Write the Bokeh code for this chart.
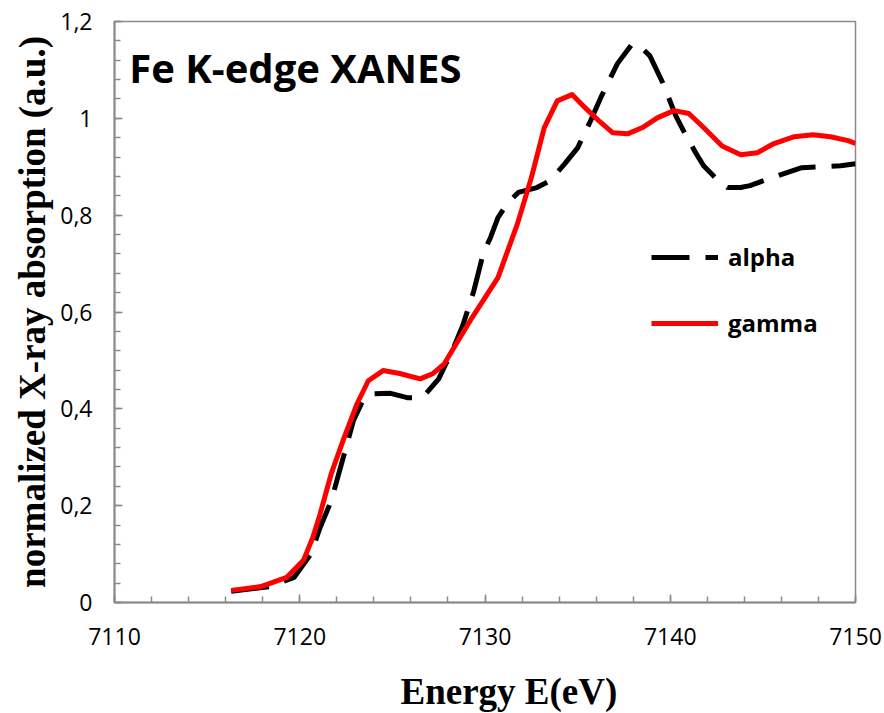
from bokeh.plotting import figure
from bokeh.models import (Range1d, FixedTicker, CustomJSTickFormatter, Label,
                          Legend, LegendItem, Title)
from bokeh.embed import file_html
from bokeh.resources import INLINE
import numpy as np

# ---------------- data ----------------
gamma_E = [7116.3, 7117.9, 7119.3, 7120.2, 7120.7, 7121.1, 7121.7, 7122.4, 7123.1,
           7123.7, 7124.5, 7125.4, 7126.5, 7127.2, 7127.8, 7129.2, 7130.7, 7131.75,
           7132.5, 7133.2, 7133.9, 7134.7, 7135.4, 7136.2, 7136.9, 7137.7, 7138.5,
           7139.3, 7140.2, 7141.0, 7141.8, 7142.8, 7143.8, 7144.7, 7145.6, 7146.7,
           7147.7, 7148.65, 7149.6, 7150.0]
gamma_y = [0.025, 0.033, 0.052, 0.087, 0.134, 0.183, 0.266, 0.341, 0.411,
           0.458, 0.479, 0.473, 0.462, 0.473, 0.493, 0.582, 0.671, 0.782,
           0.877, 0.981, 1.036, 1.049, 1.022, 0.993, 0.970, 0.968, 0.981,
           1.001, 1.016, 1.010, 0.981, 0.943, 0.925, 0.929, 0.948, 0.962,
           0.966, 0.962, 0.954, 0.948]

alpha_E = [7116.3, 7118.4, 7119.7, 7120.6, 7121.1, 7121.7, 7122.2, 7122.6, 7122.9,
           7123.4, 7123.9, 7124.9, 7125.8, 7126.4, 7126.8, 7127.5, 7128.3, 7128.8,
           7129.4, 7129.9, 7130.3, 7130.7, 7131.2, 7131.8, 7132.8, 7133.5, 7134.3,
           7135.0, 7135.7, 7136.3, 7137.15, 7137.95, 7138.5, 7138.9, 7139.1, 7139.6,
           7140.3, 7140.8, 7141.4, 7141.8, 7142.55, 7143.1, 7143.8, 7144.3, 7145.3,
           7146.3, 7147.1, 7148.3, 7149.2, 7150.0]
alpha_y = [0.023, 0.033, 0.052, 0.100, 0.155, 0.210, 0.279, 0.334, 0.376,
           0.417, 0.431, 0.432, 0.423, 0.423, 0.431, 0.462, 0.526, 0.572,
           0.644, 0.720, 0.754, 0.795, 0.824, 0.847, 0.857, 0.871, 0.906,
           0.939, 0.995, 1.047, 1.113, 1.154, 1.144, 1.129, 1.113, 1.073,
           1.005, 0.968, 0.927, 0.902, 0.873, 0.857, 0.857, 0.861, 0.875,
           0.888, 0.898, 0.900, 0.902, 0.906]

x_ticks = [7110, 7120, 7130, 7140, 7150]
y_ticks = [0, 0.2, 0.4, 0.6, 0.8, 1.0, 1.2]
y_tick_labels = ["0", "0,2", "0,4", "0,6", "0,8", "1", "1,2"]

series_names = ["alpha", "gamma"]
title_text = "Fe K-edge XANES"
x_label = "Energy E(eV)"
y_label = "normalized X-ray absorption (a.u.)"

# ---------------- figure ----------------
AXIS_GRAY = "#8a8a8a"

p = figure(frame_width=741, frame_height=581,
           min_border_left=114, min_border_right=29,
           min_border_top=21, min_border_bottom=111,
           x_range=Range1d(7110, 7150), y_range=Range1d(0, 1.2),
           output_backend="svg", toolbar_location=None,
           background_fill_color="white", border_fill_color="white")

p.grid.visible = False
p.outline_line_color = AXIS_GRAY
p.outline_line_width = 1.5

p.xaxis.ticker = FixedTicker(ticks=x_ticks, minor_ticks=list(np.arange(7110, 7150.01, 2)))
p.yaxis.ticker = FixedTicker(ticks=y_ticks, minor_ticks=list(np.round(np.arange(0, 1.2001, 0.04), 4)))
p.yaxis.formatter = CustomJSTickFormatter(
    args=dict(tvals=y_ticks, tlabels=y_tick_labels),
    code="""
    let best = 0, bd = 1e9;
    for (let i = 0; i < tvals.length; i++) {
        const d = Math.abs(tvals[i] - tick);
        if (d < bd) { bd = d; best = i; }
    }
    return tlabels[best];
    """)

for ax in (p.xaxis, p.yaxis):
    ax.axis_line_color = AXIS_GRAY
    ax.axis_line_width = 2
    ax.major_tick_line_color = AXIS_GRAY
    ax.minor_tick_line_color = AXIS_GRAY
    ax.major_tick_line_width = 1.5
    ax.minor_tick_line_width = 1.5
    ax.major_tick_in = 8
    ax.major_tick_out = 0
    ax.minor_tick_in = 6
    ax.minor_tick_out = 0
    ax.major_label_text_font = "Open Sans"
    ax.major_label_text_font_size = "23px"
    ax.major_label_text_color = "black"

p.xaxis.major_label_standoff = 25
p.yaxis.major_label_standoff = 22

p.yaxis.axis_label = y_label
p.yaxis.axis_label_text_font = "Liberation Serif"
p.yaxis.axis_label_text_font_style = "bold"
p.yaxis.axis_label_text_font_size = "37px"
p.yaxis.axis_label_text_color = "black"
p.yaxis.axis_label_standoff = 4

# curves
r_alpha = p.line(alpha_E, alpha_y, line_color="black", line_width=5,
                 line_dash="38 16", line_join="round")
r_gamma = p.line(gamma_E, gamma_y, line_color="#ff0000", line_width=5,
                 line_join="round")

legend = Legend(items=[LegendItem(label=series_names[0], renderers=[r_alpha]),
                       LegendItem(label=series_names[1], renderers=[r_gamma])],
                location=(537, 263), orientation="vertical",
                glyph_width=67, glyph_height=20, label_height=20,
                label_standoff=10, spacing=33, padding=0, margin=0,
                border_line_color=None, background_fill_alpha=0,
                label_text_font="Open Sans", label_text_font_style="bold",
                label_text_font_size="24px", label_text_color="black")
p.add_layout(legend)

# chart title inside plot area
p.add_layout(Label(x=7110.8, y=1.104, text=title_text, text_font="Open Sans",
                   text_font_style="bold", text_font_size="40px",
                   text_color="black", text_align="left",
                   text_baseline="alphabetic"))

# x-axis title (offset to the right, as in the reference)
p.add_layout(Title(text=x_label, align="left", offset=286, standoff=42,
                   text_font="Liberation Serif", text_font_style="bold",
                   text_font_size="37px", text_color="black"), "below")

open("out.html", "w").write(file_html(p, INLINE))
